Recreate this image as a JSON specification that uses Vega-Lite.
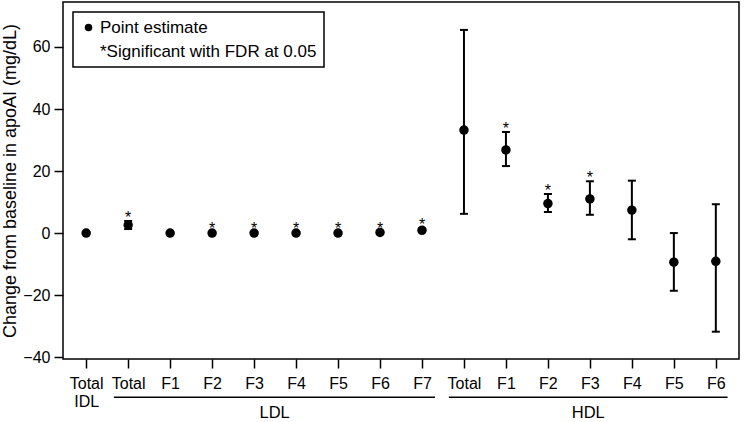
{
  "$schema": "https://vega.github.io/schema/vega-lite/v6.json",
  "width": 676,
  "height": 357,
  "autosize": {"type": "none"},
  "padding": {"left": 63, "top": 2, "right": 6, "bottom": 63},
  "background": "white",
  "config": {
    "font": "Liberation Sans",
    "view": {"stroke": "black", "strokeWidth": 1.5},
    "axis": {"grid": false, "domain": false, "tickColor": "black", "tickWidth": 1.5, "labelColor": "black", "labelFontSize": 16, "labelFont": "Liberation Sans", "titleColor": "black", "titleFont": "Liberation Sans"},
    "legend": {"strokeWidth": 1.5}
  },
  "datasets": {
    "est": [
      {"cat": "IDL Total", "est": 0.0, "lo": -0.3, "hi": 0.3, "sig": false},
      {"cat": "LDL Total", "est": 2.6, "lo": 1.3, "hi": 3.9, "sig": true},
      {"cat": "LDL F1", "est": 0.0, "lo": -0.2, "hi": 0.2, "sig": false},
      {"cat": "LDL F2", "est": 0.0, "lo": -0.3, "hi": 0.4, "sig": true},
      {"cat": "LDL F3", "est": 0.0, "lo": -0.3, "hi": 0.4, "sig": true},
      {"cat": "LDL F4", "est": 0.0, "lo": -0.3, "hi": 0.4, "sig": true},
      {"cat": "LDL F5", "est": 0.0, "lo": -0.3, "hi": 0.4, "sig": true},
      {"cat": "LDL F6", "est": 0.2, "lo": -0.1, "hi": 0.5, "sig": true},
      {"cat": "LDL F7", "est": 0.9, "lo": 0.4, "hi": 1.5, "sig": true},
      {"cat": "HDL Total", "est": 33.2, "lo": 6.2, "hi": 65.5, "sig": false},
      {"cat": "HDL F1", "est": 26.8, "lo": 21.6, "hi": 32.6, "sig": true},
      {"cat": "HDL F2", "est": 9.5, "lo": 6.8, "hi": 12.6, "sig": true},
      {"cat": "HDL F3", "est": 11.0, "lo": 5.9, "hi": 16.7, "sig": true},
      {"cat": "HDL F4", "est": 7.4, "lo": -2.0, "hi": 16.9, "sig": false},
      {"cat": "HDL F5", "est": -9.4, "lo": -18.6, "hi": 0.0, "sig": false},
      {"cat": "HDL F6", "est": -9.1, "lo": -31.8, "hi": 9.3, "sig": false}
    ],
    "groups": [
      {"group": "LDL", "start": 0.66, "end": 8.31, "mid": 4.49},
      {"group": "HDL", "start": 8.64, "end": 15.28, "mid": 11.96}
    ]
  },
  "layer": [
    {
      "mark": {"type": "rule", "strokeDash": [8, 5], "strokeWidth": 1, "color": "black"},
      "encoding": {
        "y": {"datum": 0, "type": "quantitative", "scale": {"domain": [-40.6, 74.5], "nice": false, "zero": false}}
      }
    },
    {
      "data": {"name": "est"},
      "encoding": {
        "x": {
          "field": "cat", "type": "nominal", "sort": null,
          "scale": {"type": "point", "padding": 0.552},
          "axis": {
            "title": null, "labelAngle": 0, "tickSize": 9, "labelPadding": 7, "labelLineHeight": 18,
            "labelExpr": "datum.value == 'IDL Total' ? ['Total', 'IDL'] : split(datum.value, ' ')[1]"
          }
        }
      },
      "layer": [
        {
          "mark": {"type": "rule", "strokeWidth": 2, "color": "black"},
          "encoding": {
            "y": {"field": "lo", "type": "quantitative", "scale": {"domain": [-40.6, 74.5], "nice": false, "zero": false}},
            "y2": {"field": "hi"}
          }
        },
        {
          "mark": {"type": "tick", "orient": "horizontal", "size": 8, "thickness": 2, "color": "black", "opacity": 1},
          "encoding": {
            "y": {"field": "lo", "type": "quantitative", "scale": {"domain": [-40.6, 74.5], "nice": false, "zero": false}}
          }
        },
        {
          "mark": {"type": "tick", "orient": "horizontal", "size": 8, "thickness": 2, "color": "black", "opacity": 1},
          "encoding": {
            "y": {"field": "hi", "type": "quantitative", "scale": {"domain": [-40.6, 74.5], "nice": false, "zero": false}}
          }
        },
        {
          "mark": {"type": "point", "filled": true, "shape": "circle", "size": 90, "opacity": 1},
          "encoding": {
            "y": {
              "field": "est", "type": "quantitative",
              "scale": {"domain": [-40.6, 74.5], "nice": false, "zero": false},
              "axis": {"values": [-40, -20, 0, 20, 40, 60], "tickSize": 9, "labelPadding": 4, "title": "Change from baseline in apoAI (mg/dL)", "titleFontSize": 18, "titleFontWeight": "normal", "titlePadding": 3}
            },
            "fill": {
              "datum": "Point estimate", "type": "nominal",
              "scale": {"domain": ["Point estimate", "*Significant with FDR at 0.05"], "range": ["black", "transparent"]},
              "legend": {"title": null, "orient": "top-left", "offset": 10, "strokeColor": "black", "fillColor": "white", "padding": 7, "labelFontSize": 17, "labelLimit": 400, "labelColor": "black", "labelFont": "Liberation Sans", "symbolType": "circle", "symbolSize": 56, "symbolStrokeWidth": 0, "labelOffset": 3, "rowPadding": 6}
            }
          }
        },
        {
          "transform": [{"filter": "datum.sig"}],
          "mark": {"type": "text", "text": "*", "fontSize": 16, "baseline": "alphabetic", "dy": 2, "fill": "black", "opacity": 1, "font": "Liberation Sans"},
          "encoding": {
            "y": {"field": "hi", "type": "quantitative", "scale": {"domain": [-40.6, 74.5], "nice": false, "zero": false}}
          }
        }
      ]
    },
    {
      "data": {"name": "groups"},
      "encoding": {
        "x": {"field": "start", "type": "quantitative", "scale": {"domain": [-0.552, 15.552], "nice": false, "zero": false}, "axis": null}
      },
      "layer": [
        {
          "mark": {"type": "rule", "strokeWidth": 1.5, "color": "black", "clip": false},
          "encoding": {
            "x2": {"field": "end"},
            "y": {"datum": -52.9, "type": "quantitative", "scale": {"domain": [-40.6, 74.5], "nice": false, "zero": false}}
          }
        },
        {
          "mark": {"type": "text", "fontSize": 16.5, "baseline": "middle", "color": "black", "clip": false, "font": "Liberation Sans"},
          "encoding": {
            "x": {"field": "mid", "type": "quantitative", "scale": {"domain": [-0.552, 15.552], "nice": false, "zero": false}, "axis": null},
            "y": {"datum": -58.1, "type": "quantitative", "scale": {"domain": [-40.6, 74.5], "nice": false, "zero": false}},
            "text": {"field": "group"}
          }
        }
      ]
    }
  ],
  "resolve": {"scale": {"x": "independent"}}
}
